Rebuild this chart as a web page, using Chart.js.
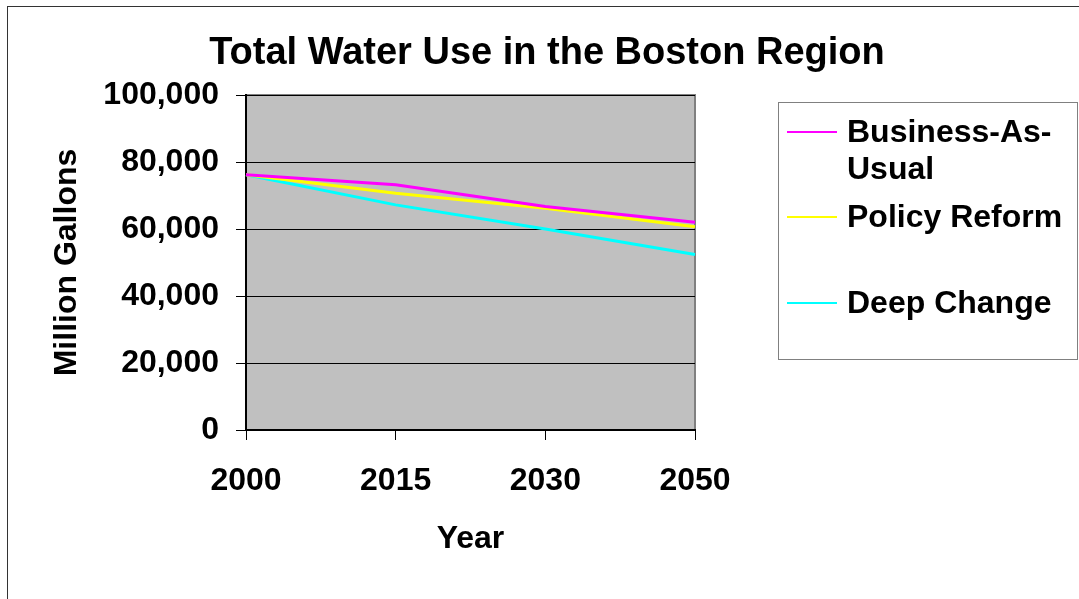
<!DOCTYPE html>
<html>
<head>
<meta charset="utf-8">
<script src="https://cdn.jsdelivr.net/npm/chart.js@4"></script>
<style>
  body { margin: 0; background: #fff; }
  #wrap { position: relative; width: 1079px; height: 599px; overflow: hidden; }
  #frame { position: absolute; left: 7px; top: 6px; width: 1090px; height: 620px; border: 1.5px solid #333; box-sizing: border-box; }
  #title { position: absolute; left: 147px; width: 800px; top: 30px; text-align: center; line-height: 44px;
           font: bold 38px "Liberation Sans", Arial, sans-serif; color: #000; }
  #legend { position: absolute; left: 778px; top: 102px; width: 300px; height: 258px; border: 1.5px solid #808080; box-sizing: border-box; background: #fff;
            font: bold 32px "Liberation Sans", Arial, sans-serif; color: #000; }
  .item { position: absolute; left: 8px; }
  .item .sw { position: absolute; left: 0; width: 50px; height: 2px; top: 18px; }
  .item .tx { position: absolute; left: 60px; line-height: 37px; white-space: pre; }
</style>
</head>
<body>
<div id="wrap">
  <canvas id="waterChart" width="1079" height="599"></canvas>
  <div id="frame"></div>
  <div id="title">Total Water Use in the Boston Region</div>
  <div id="legend"></div>
</div>
<script>
const years = ['2000', '2015', '2030', '2050'];
const businessAsUsual = [76200, 73200, 66700, 62000];
const policyReform = [76200, 70700, 66200, 60700];
const deepChange = [76200, 67200, 60000, 52400];
const seriesNames = ['Business-As-\nUsual', 'Policy Reform', 'Deep Change'];
const seriesColors = ['#ff00ff', '#ffff00', '#00ffff'];
const legendTops = [10, 95, 181];

const font = 'Liberation Sans';

// fond gris de la zone de tracé
const plotBg = {
    id: 'plotBg',
    beforeDraw(chart) {
        const a = chart.chartArea;
        const c = chart.ctx;
        c.save();
        c.fillStyle = '#c0c0c0';
        c.fillRect(a.left, a.top, a.right - a.left, a.bottom - a.top);
        c.strokeStyle = '#808080';
        c.lineWidth = 2;
        c.beginPath();
        c.moveTo(a.left, a.top);
        c.lineTo(a.right, a.top);
        c.lineTo(a.right, a.bottom);
        c.stroke();
        c.restore();
    }
};

const ctx = document.getElementById('waterChart').getContext('2d');
const chart = new Chart(ctx, {
    type: 'line',
    data: {
        labels: years,
        datasets: [
            { label: seriesNames[0], data: businessAsUsual, borderColor: seriesColors[0] },
            { label: seriesNames[1], data: policyReform, borderColor: seriesColors[1] },
            { label: seriesNames[2], data: deepChange, borderColor: seriesColors[2] }
        ].map(d => Object.assign(d, { borderWidth: 3, pointRadius: 0, tension: 0, fill: false }))
    },
    options: {
        responsive: false,
        animation: false,
        layout: { padding: { left: 0, right: 384, top: 95, bottom: 0 } },
        plugins: {
            legend: { display: false },
            tooltip: { enabled: false },
            title: { display: false }
        },
        scales: {
            x: {
                offset: false,
                grid: { drawOnChartArea: false, color: '#000', tickLength: 10, tickWidth: 1 },
                border: { color: '#000', width: 2 },
                ticks: { color: '#000', font: { family: font, size: 32, weight: 'bold' }, padding: 22, maxRotation: 0 },
                title: { display: true, text: 'Year', color: '#000', font: { family: font, size: 32, weight: 'bold' }, padding: { top: 0, bottom: 41 } },
                afterFit(scale) { scale.height = 169; }
            },
            y: {
                min: 0,
                max: 100000,
                ticks: {
                    stepSize: 20000,
                    color: '#000',
                    font: { family: font, size: 32, weight: 'bold' },
                    padding: 17,
                    callback: v => v.toLocaleString('en-US')
                },
                grid: { color: '#000', tickLength: 10, lineWidth: 1 },
                border: { color: '#000', width: 2 },
                title: { display: true, text: 'Million Gallons', color: '#000', font: { family: font, size: 32, weight: 'bold' }, padding: { top: 48, bottom: 0 } },
                afterFit(scale) { scale.width = 246; }
            }
        }
    },
    plugins: [plotBg]
});

// légende HTML construite à partir des séries
const legend = document.getElementById('legend');
chart.data.datasets.forEach((ds, i) => {
    const item = document.createElement('div');
    item.className = 'item';
    item.style.top = legendTops[i] + 'px';
    item.innerHTML = '<div class="sw" style="background:' + ds.borderColor + '"></div><div class="tx"></div>';
    item.querySelector('.tx').textContent = ds.label;
    legend.appendChild(item);
});
</script>
</body>
</html>
